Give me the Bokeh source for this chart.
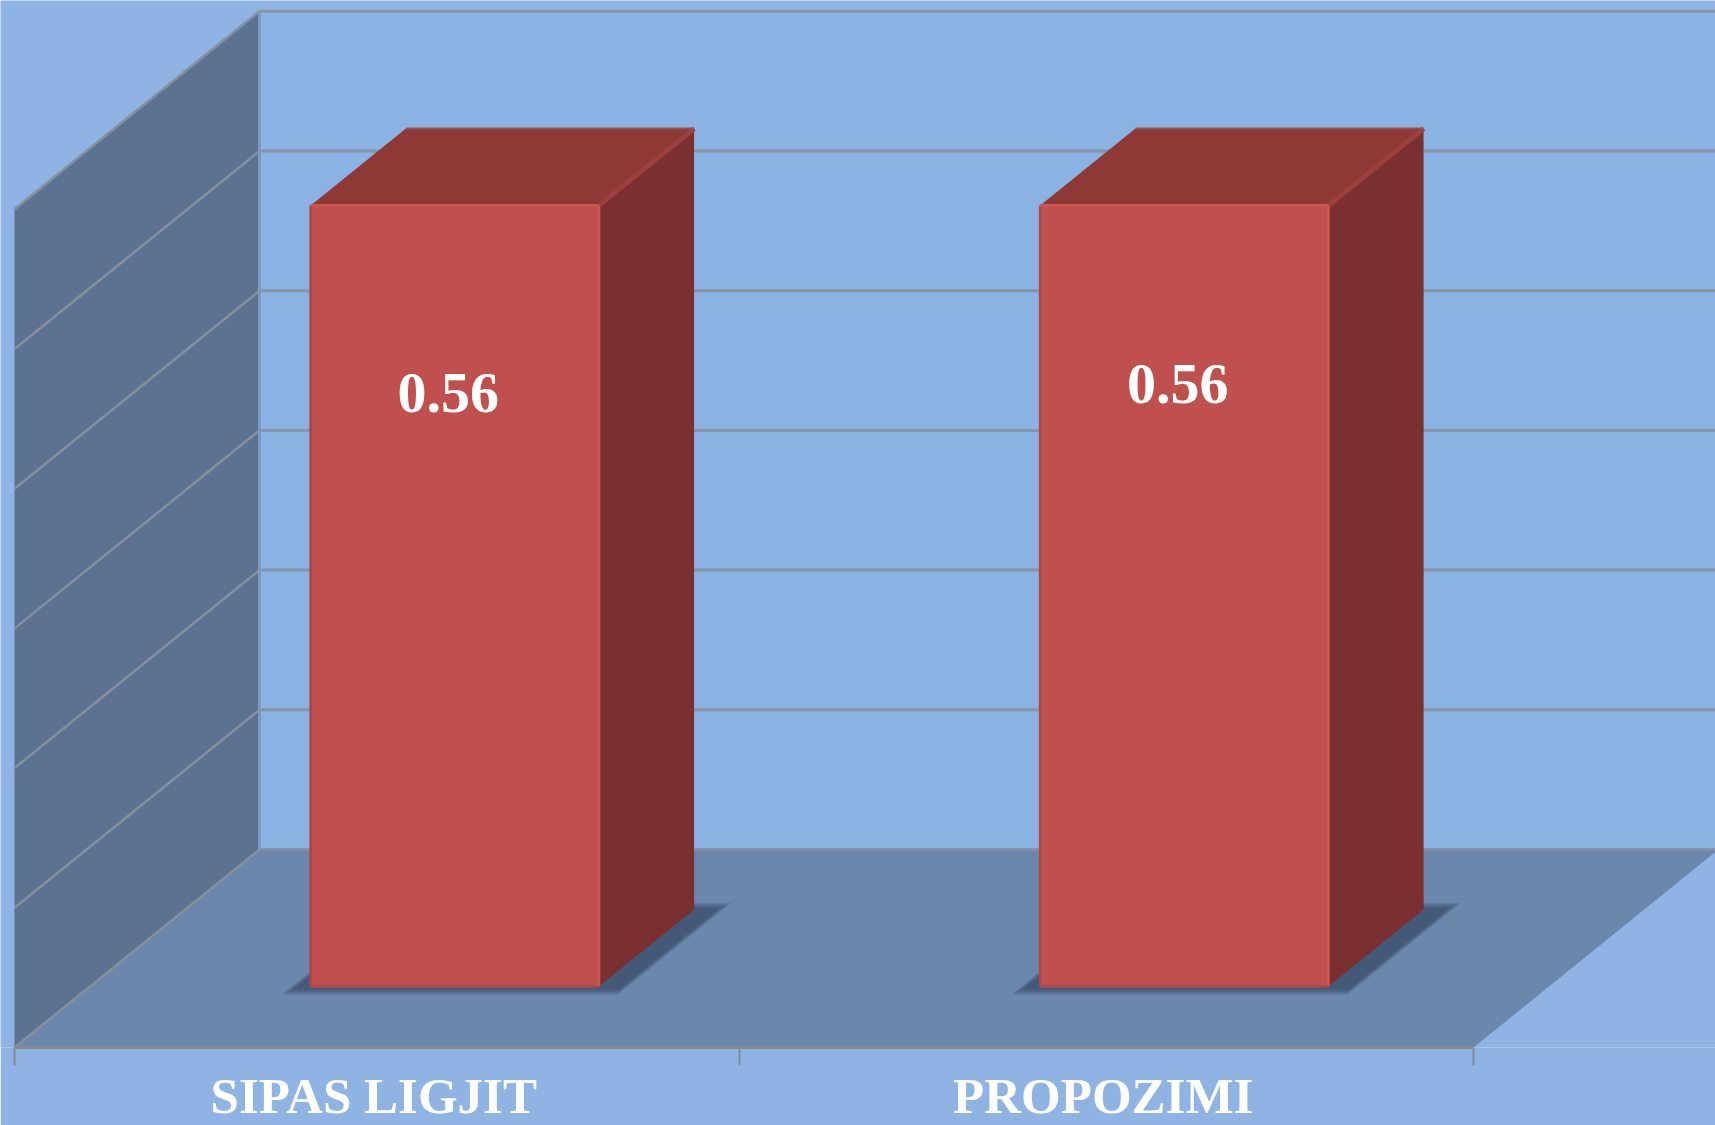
from bokeh.plotting import figure
from bokeh.models import Range1d, LinearAxis, FixedTicker
from bokeh.core.properties import value
from bokeh.embed import file_html
from bokeh.resources import INLINE

# ---- data
categories = ["SIPAS LIGJIT", "PROPOZIMI"]
series_values = [0.559, 0.559]
value_labels = ["0.56", "0.56"]
label_heights = [0.425, 0.431]     # manually placed data labels
grid_ticks = [0.0, 0.1, 0.2, 0.3, 0.4, 0.5, 0.6]
boundary_ticks = [0, 0.994, 2]

# ---- style / pseudo-3D projection
BG, BACK, WALL, FLOOR = "#8FB3E3", "#8AB3E3", "#5B7390", "#6B87AC"
GRID = "#868F9C"
FRONT, SIDE, TOP = "#C0504D", "#7A3030", "#8F3937"
DX, DY = 245 / 729.5, 198 / 1397     # depth offset of the whole box
BAR_W = 0.395
Z0, Z1 = 0.308, 0.697                # bar depth inside the box
PX_X, PX_Y = 729.5, 1397             # pixels per data unit
LABEL_SHIFT = 0.0075
SERIF = "Liberation Serif"


def proj(c, v, z):
    return c + z * DX, v + z * DY


def poly(pts):
    xy = [proj(*q) for q in pts]
    return [q[0] for q in xy], [q[1] for q in xy]


p = figure(
    width=1715, height=1125, frame_width=1715, frame_height=1047,
    x_range=Range1d(-14 / PX_X, 1701 / PX_X), y_range=Range1d(0, 1047 / PX_Y),
    output_backend="svg", toolbar_location=None, x_axis_location=None, y_axis_location=None,
    min_border=0, min_border_left=0, min_border_right=0, min_border_top=0, min_border_bottom=0,
    background_fill_color=BG, border_fill_color=BG, outline_line_color=None,
)
p.xgrid.visible = False
p.ygrid.visible = False

n = len(categories)
vmax = grid_ticks[-1]

# walls and floor
x, y = poly([(0, 0, 1), (n, 0, 1), (n, vmax, 1), (0, vmax, 1)])
p.patch(x, y, fill_color=BACK, line_color=None)
x, y = poly([(0, 0, 0), (n, 0, 0), (n, 0, 1), (0, 0, 1)])
p.patch(x, y, fill_color=FLOOR, line_color=None)
x, y = poly([(0, 0, 0), (0, 0, 1), (0, vmax, 1), (0, vmax, 0)])
p.patch(x, y, fill_color=WALL, line_color=None)

# grid lines on back and side wall
for t in grid_ticks:
    x, y = poly([(0, t, 1), (n, t, 1)])
    p.line(x, y, line_color=GRID, line_width=3, line_alpha=0.85)
    x, y = poly([(0, t, 0), (0, t, 1)])
    p.line(x, y, line_color=GRID, line_width=2.5)
x, y = poly([(0, 0, 1), (0, vmax, 1)])
p.line(x, y, line_color="#7B9ABF", line_width=3)

# bars
for i, v in enumerate(series_values):
    c0, c1 = i + 0.5 - BAR_W / 2, i + 0.5 + BAR_W / 2
    # soft floor shadow, several translucent layers
    for e in (4, 2.5, 1, -0.5, -2):
        ec, ez = e / PX_X, e / 198
        x, y = poly([(c0 - 0.02 - ec, 0, Z0 - 0.02 - ez), (c1 + 0.034 + ec, 0, Z0 - 0.02 - ez),
                     (c1 + 0.034 + ec, 0, Z1 + 0.012 + ez), (c0 - 0.02 - ec, 0, Z1 + 0.012 + ez)])
        p.patch(x, y, fill_color="#3A4F6C", fill_alpha=0.27, line_color=None)
    # faces
    x, y = poly([(c1, 0, Z0), (c1, 0, Z1), (c1, v, Z1), (c1, v, Z0)])
    p.patch(x, y, fill_color=SIDE, line_color=None)
    x, y = poly([(c0, v, Z0), (c1, v, Z0), (c1, v, Z1), (c0, v, Z1)])
    p.patch(x, y, fill_color=TOP, line_color=None)
    x, y = poly([(c0, 0, Z0), (c1, 0, Z0), (c1, v, Z0), (c0, v, Z0)])
    p.patch(x, y, fill_color=FRONT, line_color=None)
    # bevel highlights
    x, y = poly([(c1, v, Z0), (c1, v, Z1)])
    p.line(x, y, line_color="#9C403E", line_width=5)
    x, y = poly([(c0, v, Z1), (c1, v, Z1)])
    p.line(x, y, line_color="#955050", line_width=2)
    x, y = poly([(c0, 0, Z0), (c0, v, Z0)])
    p.line(x, y, line_color="#AD4745", line_width=2.5)
    x, y = poly([(c1, 0, Z0), (c1, v, Z0)])
    p.line(x, y, line_color="#CB5750", line_width=3)
    x, y = poly([(c0, 0, Z0), (c1, 0, Z0)])
    p.line(x, y, line_color="#A8494A", line_width=2.5)
    x, y = poly([(c0, v, Z0), (c1, v, Z0)])
    p.line(x, y, line_color="#CB5651", line_width=3)
    # data label
    lx, ly = proj(i + 0.5 - 6.5 / PX_X, label_heights[i], Z0)
    p.text([lx], [ly], text=[value_labels[i]], text_color="#FFFFFF", text_font=value(SERIF),
           text_font_size="58px", text_font_style="bold", text_align="center", text_baseline="alphabetic")

# category axis: boundary ticks as minor ticks, labels at the category centres
axis = LinearAxis(
    ticker=FixedTicker(ticks=[i + 0.5 - LABEL_SHIFT for i in range(n)], minor_ticks=boundary_ticks),
    major_label_overrides={i + 0.5 - LABEL_SHIFT: c for i, c in enumerate(categories)},
    bounds=(0, n),
    axis_line_color="#858B93", axis_line_width=3,
    major_tick_line_color=None, major_tick_in=0, major_tick_out=0,
    minor_tick_line_color="#858B93", minor_tick_line_width=2, minor_tick_in=0, minor_tick_out=18,
    major_label_standoff=2,
    major_label_text_color="#FFFFFF", major_label_text_font=SERIF,
    major_label_text_font_size="51px", major_label_text_font_style="bold",
)
p.add_layout(axis, "below")

open("out.html", "w").write(file_html(p, INLINE))
